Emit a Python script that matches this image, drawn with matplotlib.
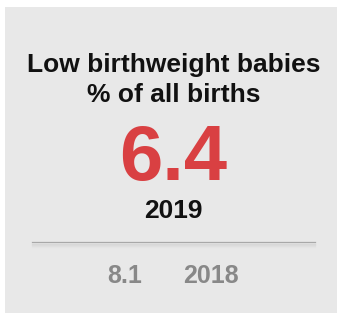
import matplotlib
matplotlib.use("Agg")
import matplotlib.pyplot as plt
from matplotlib.patches import Rectangle
from matplotlib.lines import Line2D

title_lines = ["Low birthweight babies", "% of all births"]
current_value = "6.4"
current_year = "2019"
previous_value = "8.1"
previous_year = "2018"

W, H = 337, 313
fig = plt.figure(figsize=(W / 100, H / 100), dpi=100)
fig.patch.set_facecolor("white")

def px(x, y):
    return x / W, 1 - y / H

font = ["Liberation Sans", "DejaVu Sans"]

fig.patches.append(Rectangle(px(5, 313), (W - 5) / W, (313 - 7) / H,
                             transform=fig.transFigure, facecolor="#e8e8e8",
                             edgecolor="none", zorder=0))

cx = 174
fig.text(*px(cx, 72), title_lines[0], ha="center", va="baseline",
         fontsize=19, fontweight="bold", family=font, color="#111111")
fig.text(*px(cx, 102), title_lines[1], ha="center", va="baseline",
         fontsize=19, fontweight="bold", family=font, color="#111111")
fig.text(*px(173, 180), current_value, ha="center", va="baseline",
         fontsize=56, fontweight="bold", family=font, color="#d94042")
fig.text(*px(173.5, 218), current_year, ha="center", va="baseline",
         fontsize=19, fontweight="bold", family=font, color="#111111")

# soft shadow under separator
for i, a in enumerate([0.06, 0.04, 0.025, 0.012]):
    y = 243.5 + i
    fig.lines.append(Line2D([32 / W, 315 / W], [1 - y / H, 1 - y / H],
                            transform=fig.transFigure, color="black",
                            alpha=a, linewidth=1.0))
fig.lines.append(Line2D([32 / W, 315 / W], [1 - 242 / H, 1 - 242 / H],
                        transform=fig.transFigure, color="#a8a8a8",
                        linewidth=0.9))

fig.text(*px(124.5, 283), previous_value, ha="center", va="baseline",
         fontsize=18, fontweight="bold", family=font, color="#888888")
fig.text(*px(211, 283), previous_year, ha="center", va="baseline",
         fontsize=18, fontweight="bold", family=font, color="#888888")

fig.savefig("out.png", dpi=100)
